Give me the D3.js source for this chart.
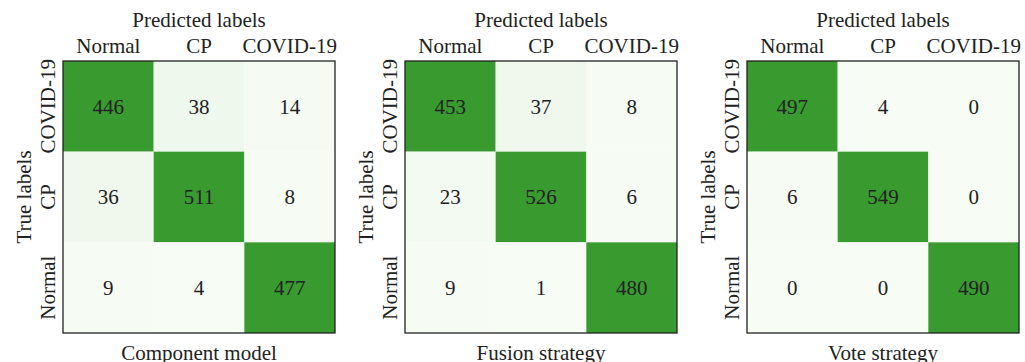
<!DOCTYPE html>
<html>
<head>
<meta charset="utf-8">
<script src="https://cdn.jsdelivr.net/npm/d3@7"></script>
<style>
  body { margin: 0; background: #fff; }
  svg text { font-family: "Liberation Serif", "DejaVu Serif", serif; fill: #222; }
</style>
</head>
<body>
<script>
// categories
var predLabels = ["Normal", "CP", "COVID-19"];   // columns
var trueLabels = ["COVID-19", "CP", "Normal"];   // rows, top to bottom
var titles = ["Component model", "Fusion strategy", "Vote strategy"];

// confusion matrices (rows = trueLabels, cols = predLabels)
var componentModel = [[446, 38, 14], [36, 511, 8], [9, 4, 477]];
var fusionStrategy = [[453, 37, 8], [23, 526, 6], [9, 1, 480]];
var voteStrategy   = [[497, 4, 0], [6, 549, 0], [0, 0, 490]];
var matrices = [componentModel, fusionStrategy, voteStrategy];

var W = 1025, H = 362;
var size = 272, boxTop = 61;

var svg = d3.select("body").append("svg")
  .attr("width", W).attr("height", H);

var panelX = d3.scaleLinear().domain([0, 2]).range([63, 747]);

matrices.forEach(function(m, i) {
  var g = svg.append("g").attr("transform", "translate(" + panelX(i) + "," + boxTop + ")");

  var x = d3.scaleBand().domain(predLabels).range([0, size]);
  var y = d3.scaleBand().domain(trueLabels).range([0, size]);
  // colour saturates at the smallest diagonal value
  var vsat = d3.min(m, function(r, k) { return r[k]; });
  var color = d3.scalePow().exponent(1.3).domain([0, vsat]).clamp(true)
    .range(["#f7fcf5", "#389a2f"]).interpolate(d3.interpolateRgb);

  var cells = [];
  m.forEach(function(row, r) {
    row.forEach(function(v, c) {
      cells.push({row: trueLabels[r], col: predLabels[c], v: v});
    });
  });

  g.selectAll("rect.cell").data(cells).enter().append("rect")
    .attr("class", "cell")
    .attr("x", function(d) { return x(d.col); })
    .attr("y", function(d) { return y(d.row); })
    .attr("width", x.bandwidth())
    .attr("height", y.bandwidth())
    .attr("fill", function(d) { return color(d.v); });

  g.selectAll("text.val").data(cells).enter().append("text")
    .attr("class", "val")
    .attr("x", function(d) { return x(d.col) + x.bandwidth() / 2; })
    .attr("y", function(d) { return y(d.row) + y.bandwidth() / 2; })
    .attr("dy", "0.35em")
    .attr("text-anchor", "middle")
    .style("font-size", "21px")
    .text(function(d) { return d.v; });

  // frame
  g.append("rect")
    .attr("width", size).attr("height", size)
    .attr("fill", "none").attr("stroke", "#222").attr("stroke-width", 1.3);

  // column labels
  g.selectAll("text.col").data(predLabels).enter().append("text")
    .attr("class", "col")
    .attr("x", function(d) { return x(d) + x.bandwidth() / 2; })
    .attr("y", -8)
    .attr("text-anchor", "middle")
    .style("font-size", "21px")
    .text(function(d) { return d; });

  // row labels, rotated
  g.selectAll("text.row").data(trueLabels).enter().append("text")
    .attr("class", "row")
    .attr("transform", function(d) {
      return "translate(-8," + (y(d) + y.bandwidth() / 2) + ") rotate(-90)";
    })
    .attr("text-anchor", "middle")
    .style("font-size", "21px")
    .text(function(d) { return d; });

  g.append("text")
    .attr("x", size / 2).attr("y", -34)
    .attr("text-anchor", "middle")
    .style("font-size", "21px")
    .text("Predicted labels");

  g.append("text")
    .attr("transform", "translate(-32," + (size / 2) + ") rotate(-90)")
    .attr("text-anchor", "middle")
    .style("font-size", "21px")
    .text("True labels");

  g.append("text")
    .attr("x", size / 2).attr("y", size + 27)
    .attr("text-anchor", "middle")
    .style("font-size", "21px")
    .text(titles[i]);
});
</script>
</body>
</html>
